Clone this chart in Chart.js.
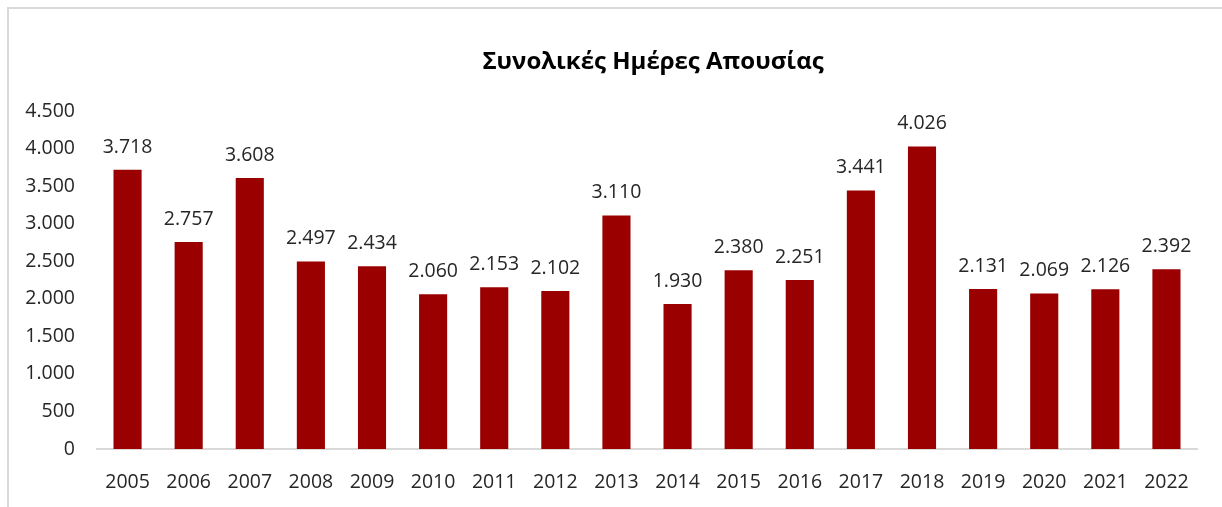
<!DOCTYPE html>
<html>
<head>
<meta charset="utf-8">
<script src="https://cdn.jsdelivr.net/npm/chart.js@4"></script>
<style>
	body { margin: 0; background: #fff; overflow: hidden; }
	#wrap { position: relative; width: 1222px; height: 507px; }
	#frame { position: absolute; left: 7px; top: 7px; width: 1240px; height: 530px; border: 2px solid #d9d9d9; }
	canvas { position: absolute; left: 0; top: 0; }
</style>
</head>
<body>
<div id="wrap">
	<div id="frame"></div>
	<canvas id="chart" width="1222" height="507"></canvas>
</div>
<script>
var years = ['2005','2006','2007','2008','2009','2010','2011','2012','2013','2014','2015','2016','2017','2018','2019','2020','2021','2022'];
var absenceDays = [3718, 2757, 3608, 2497, 2434, 2060, 2153, 2102, 3110, 1930, 2380, 2251, 3441, 4026, 2131, 2069, 2126, 2392];
var chartTitle = 'Συνολικές Ημέρες Απουσίας';

function fmt(n){
	return String(n).replace(/\B(?=(\d{3})+(?!\d))/g, '.');
}

// values above the bars + the title (title is centred on the whole frame, not the canvas)
var labelPlugin = {
	id: 'barLabels',
	afterDatasetsDraw: function(chart){
		var ctx = chart.ctx;
		var meta = chart.getDatasetMeta(0);
		ctx.save();
		ctx.font = '19.5px "Open Sans"';
		ctx.fillStyle = '#262626';
		ctx.textAlign = 'center';
		ctx.textBaseline = 'bottom';
		meta.data.forEach(function(bar, i){
			ctx.fillText(fmt(absenceDays[i]), bar.x, bar.y - 13);
		});
		ctx.font = 'bold 24px "Open Sans"';
		ctx.fillStyle = '#000';
		ctx.textBaseline = 'middle';
		ctx.fillText(chartTitle, 653, 62);
		ctx.restore();
	}
};

var ctx = document.getElementById('chart').getContext('2d');
var barGraph = new Chart(ctx, {
	type: 'bar',
	data: {
		labels: years,
		datasets: [{
			data: absenceDays,
			backgroundColor: '#9b0000',
			borderWidth: 0,
			categoryPercentage: 1,
			barPercentage: 0.46
		}]
	},
	options: {
		responsive: false,
		animation: false,
		layout: { padding: { left: 20, right: 25, top: 111, bottom: 17 } },
		plugins: {
			legend: { display: false },
			tooltip: { enabled: false },
			title: { display: false }
		},
		scales: {
			x: {
				afterFit: function(scale){ scale.height = 41; },
				grid: { display: false, drawTicks: false },
				border: { display: true, color: '#d9d9d9', width: 2 },
				ticks: { color: '#262626', padding: 22, font: { family: '"Open Sans"', size: 19.5 } }
			},
			y: {
				min: 0,
				max: 4500,
				afterFit: function(scale){ scale.width = 77; },
				grid: { display: false, drawTicks: false },
				border: { display: false },
				ticks: {
					stepSize: 500,
					color: '#262626',
					padding: 22,
					font: { family: '"Open Sans"', size: 19.5 },
					callback: function(v){ return fmt(v); }
				}
			}
		}
	},
	plugins: [labelPlugin]
});
</script>
</body>
</html>
